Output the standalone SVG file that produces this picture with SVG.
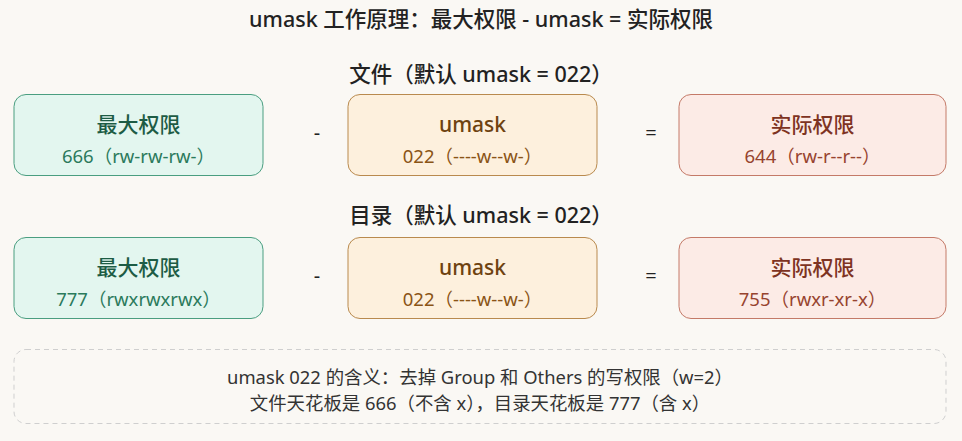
<svg xmlns="http://www.w3.org/2000/svg" width="962" height="441" viewBox="0 0 962 441">
<style>
text{font-family:"Noto Sans","Noto Sans CJK SC",sans-serif;text-anchor:middle;dominant-baseline:central}
.h{font-size:21.5px;font-weight:500;fill:#222}
.t{font-size:21px;font-weight:500}
.s{font-size:18.5px}
.op{font-size:20px;fill:#222}
.g rect{fill:#e3f6ef;stroke:#4a9e80;stroke-width:1}
.g .t{fill:#1d5c45}.g .s{fill:#2b7a5c}
.o rect{fill:#fdf0dd;stroke:#b98a4e;stroke-width:1}
.o .t{fill:#6e4210}.o .s{fill:#8a5416}
.r rect{fill:#fcebe6;stroke:#c47a68;stroke-width:1}
.r .t{fill:#7e3322}.r .s{fill:#97432f}
.n{font-size:18.4px;fill:#333}
</style>
<rect width="962" height="441" fill="#faf8f4"/>
<text class="h" x="481" y="18">umask 工作原理：最大权限 - umask = 实际权限</text>
<text class="h" x="481" y="73">文件（默认 umask = 022）</text>
<text class="h" x="481" y="214">目录（默认 umask = 022）</text>
<g id="file-max" class="g"><rect x="14" y="94.5" width="249" height="81" rx="12"/><text class="t" x="138.5" y="124">最大权限</text><text class="s" x="138.5" y="155">666（rw-rw-rw-）</text></g>
<g id="file-umask" class="o"><rect x="348" y="94.5" width="249" height="81" rx="12"/><text class="t" x="472.5" y="124">umask</text><text class="s" x="472.5" y="155">022（----w--w-）</text></g>
<g id="file-actual" class="r"><rect x="679" y="94.5" width="267" height="81" rx="12"/><text class="t" x="812.5" y="124">实际权限</text><text class="s" x="812.5" y="155">644（rw-r--r--）</text></g>
<g id="dir-max" class="g"><rect x="14" y="237.5" width="249" height="81" rx="12"/><text class="t" x="138.5" y="267">最大权限</text><text class="s" x="138.5" y="298">777（rwxrwxrwx）</text></g>
<g id="dir-umask" class="o"><rect x="348" y="237.5" width="249" height="81" rx="12"/><text class="t" x="472.5" y="267">umask</text><text class="s" x="472.5" y="298">022（----w--w-）</text></g>
<g id="dir-actual" class="r"><rect x="679" y="237.5" width="267" height="81" rx="12"/><text class="t" x="812.5" y="267">实际权限</text><text class="s" x="812.5" y="298">755（rwxr-xr-x）</text></g>
<g id="operators">
<text class="op" x="317" y="132">-</text>
<text class="op" x="651" y="132">=</text>
<text class="op" x="317" y="275">-</text>
<text class="op" x="651" y="275">=</text>
</g>
<g id="note">
<rect x="14" y="349.5" width="932" height="74" rx="12" fill="none" stroke="#cfcfcf" stroke-dasharray="5 4"/>
<text class="n" x="480" y="376">umask 022 的含义：去掉 Group 和 Others 的写权限（w=2）</text>
<text class="n" x="480" y="402">文件天花板是 666（不含 x），目录天花板是 777（含 x）</text>
</g>
</svg>
